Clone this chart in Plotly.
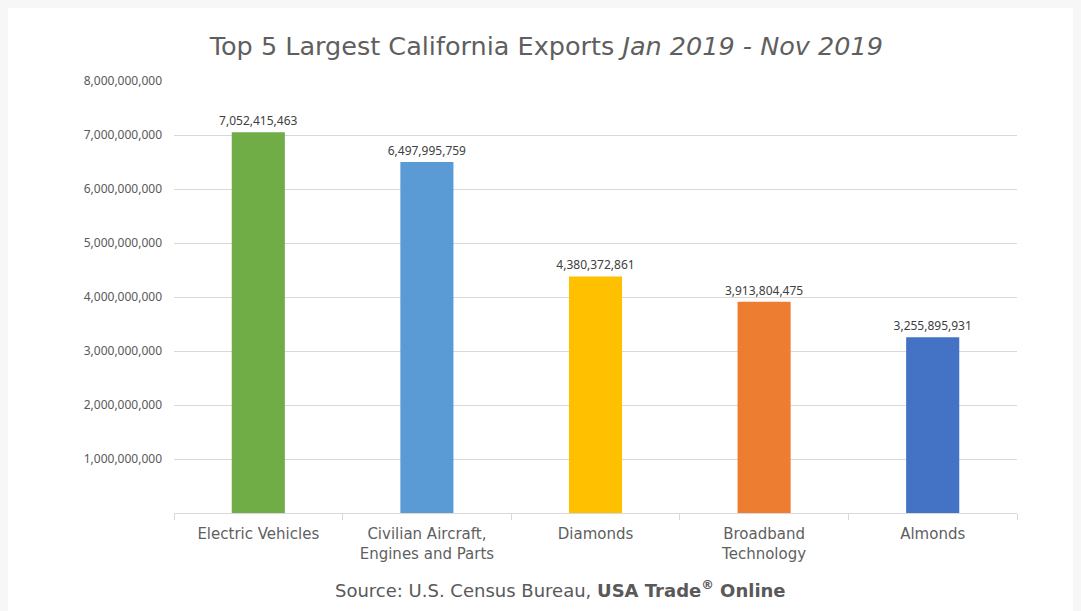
import plotly.graph_objects as go

categories = ["Electric Vehicles", "Civilian Aircraft,<br>Engines and Parts", "Diamonds",
              "Broadband<br>Technology", "Almonds"]
values = [7052415463, 6497995759, 4380372861, 3913804475, 3255895931]
colors = ["#70AD47", "#5B9BD5", "#FFC000", "#ED7D31", "#4472C4"]
y_ticks = [1e9, 2e9, 3e9, 4e9, 5e9, 6e9, 7e9, 8e9]
y_tick_text = ["1,000,000,000", "2,000,000,000", "3,000,000,000", "4,000,000,000",
               "5,000,000,000", "6,000,000,000", "7,000,000,000", "8,000,000,000"]
boundaries = [-0.5, 0.5, 1.5, 2.5, 3.5, 4.5]

fig = go.Figure()
fig.add_trace(go.Bar(
    x=list(range(len(categories))), y=values, marker_color=colors, marker_line_width=0,
    text=[f"{v:,}" for v in values], textposition="outside", cliponaxis=False,
    constraintext="none",
    textfont=dict(family="Noto Sans", size=12, color="#404040"),
    width=0.315, hoverinfo="skip",
))
fig.add_trace(go.Scatter(x=[None], y=[None], xaxis="x2", showlegend=False, hoverinfo="skip"))

fig.update_layout(
    width=1081, height=611,
    paper_bgcolor="white", plot_bgcolor="white",
    margin=dict(l=166, r=72, t=73, b=106),
    showlegend=False,
    title=dict(
        text="Top 5 Largest California Exports <i>Jan 2019 - Nov 2019</i>",
        x=0.498, xanchor="center", y=0.938, yanchor="middle",
        font=dict(family="DejaVu Sans", size=25.5, color="#5f5f5f"),
    ),
    xaxis=dict(
        range=[-0.5, 4.5], tickmode="array", tickvals=list(range(len(categories))),
        ticktext=categories, showgrid=False, zeroline=False,
        showline=True, linecolor="#d9d9d9", linewidth=1,
        ticks="", ticklabelstandoff=7,
        tickfont=dict(family="DejaVu Sans", size=15, color="#5f5f5f"),
    ),
    xaxis2=dict(
        overlaying="x", range=[-0.5, 4.5], tickmode="array", tickvals=boundaries,
        showticklabels=False, ticks="outside", ticklen=6, tickcolor="#d9d9d9",
        showgrid=False, zeroline=False, side="bottom", anchor="y",
    ),
    yaxis=dict(
        range=[0, 8e9], tickmode="array", tickvals=y_ticks, ticktext=y_tick_text,
        showgrid=True, gridcolor="#d9d9d9", gridwidth=1, zeroline=False,
        tickfont=dict(family="Noto Sans", size=12, color="#595959"), ticks="",
        ticklabelstandoff=11,
    ),
    annotations=[
        dict(text="Source: U.S. Census Bureau, <b>USA Trade<sup>®</sup> Online</b>",
             xref="paper", yref="paper", x=0.458, y=-0.176, xanchor="center", yanchor="middle",
             showarrow=False, font=dict(family="DejaVu Sans", size=18, color="#595959")),
    ],
)

fig.write_html("out.html", post_script="document.body.style.background='#f7f7f7';")
